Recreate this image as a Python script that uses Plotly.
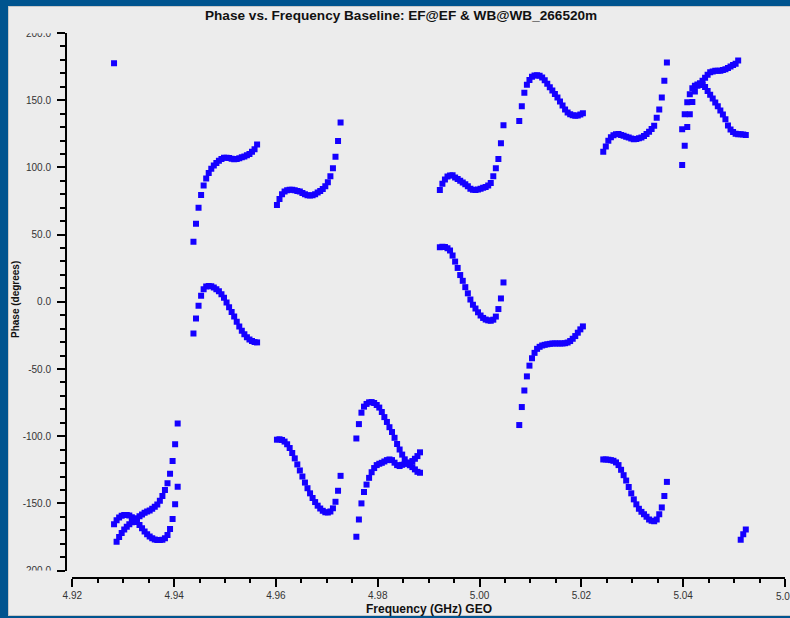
import numpy as np
import plotly.graph_objects as go

# ---------------- data ----------------
subband_start_ghz = [4.9282, 4.9438, 4.9602, 4.9758, 4.9922, 5.0078, 5.0243, 5.0398]
channel_step_ghz = 0.0005

# series 1 phases (degrees), one list per sub-band
s1_sb1 = [177.4, -178.6, -175, -172, -169.5, -167.4, -165.5, -164, -162.5, -161, -159.5, -158.2, -157,
          -156, -155.2, -154, -152.5, -150.8, -148, -144.5, -140, -135, -128, -118.5, -106, -90.5]
s1_sb2 = [44.6, 58, 70, 79.5, 86.5, 91.8, 95.8, 99, 101.5, 103.3, 105, 106.3, 107.1, 107.2, 107, 106.4,
          106, 106.3, 106.8, 107.5, 108.1, 109, 110, 111.7, 113.5, 117]
s1_sb3 = [72, 76.5, 80, 82, 83, 83.3, 83.3, 83, 82.5, 82, 81, 80, 79.3, 79, 79.3, 80, 81.3, 82.5, 84, 86,
          89, 93.5, 99.3, 108, 119.6, 133.5]
s1_sb4 = [-101.7, -91, -82.5, -78, -76, -74.8, -74.6, -75.3, -76.8, -78.7, -82, -85.8, -89.4, -93.3,
          -96.9, -101.2, -105.8, -109.9, -113.7, -117.2, -119.7, -121.6, -123, -124.7, -126.5, -127.2]
s1_sb5 = [83.1, 87.8, 91, 93.3, 94, 94.1, 92.5, 91.3, 90, 88.7, 87.4, 86, 84.2, 83.4, 83.1, 83.5, 84.1,
          84.8, 85.4, 86.5, 88.3, 93.5, 99.3, 106.2, 117.9, 131.3]
s1_sb6 = [134.5, 145.5, 155.5, 161.5, 165, 167.4, 168.3, 168.6, 168.1, 166.8, 164.9, 162.2, 159.7, 157.2,
          154.7, 152.1, 149, 146, 143, 140.9, 139.6, 138.8, 138.5, 138.7, 139.3, 140.3]
s1_sb7 = [111.6, 115.5, 119.8, 122.5, 124, 124.6, 124.8, 124.2, 123.5, 122.8, 122.3, 121.5, 120.9, 121.2,
          121.6, 122.3, 123.3, 124.8, 126.5, 128.5, 131, 137, 143, 152.1, 164.4, 178.1]
s1_sb8 = [101.7, 116.2, 130, 139.5, 148.6, 156.5, 160.7, 162.6, 164.5, 166.7, 168.9, 170.8, 171.4, 171.9,
          171.9, 172, 172.5, 173.1, 174, 175, 176.1, 177.2, 179.5, -177, -173, -169.5]

# series 2 phases (degrees)
s2_sb1 = [-165.5, -162.5, -160.5, -159.2, -158.6, -158.6, -159, -160.3, -162, -163.8, -166, -168.5, -171,
          -173, -174.7, -176, -176.8, -177.3, -177.3, -177, -176, -173.5, -169, -161.7, -150.7, -137.6]
s2_sb2 = [-23.5, -12.5, -3, 4.5, 9.3, 11.3, 11.8, 11.5, 10.6, 9.4, 7.9, 5.6, 3.1, -0.5, -4, -7.5, -10.9,
          -14.8, -18.3, -21.6, -24.2, -26.4, -28, -29.2, -30, -30.2]
s2_sb3 = [-102.6, -102.3, -102.8, -104, -106, -108.8, -112.5, -116.5, -121, -125.5, -130, -134.5, -138.7,
          -142.5, -146, -149, -151.7, -153.8, -155.5, -156.5, -156.8, -156, -153.7, -148.8, -140.6, -129.5]
s2_sb4 = [-174.8, -162, -150, -141.5, -136, -131, -126.8, -123.7, -121.5, -120.5, -119.8, -118.8, -117.8,
          -117.3, -117.8, -119.7, -121.5, -122.2, -121.3, -120.6, -120.3, -119.7, -118.5, -116.8, -114.8, -112]
s2_sb5 = [40.5, 41, 40.8, 39.8, 38.2, 34.4, 29.9, 25.2, 19.9, 15.6, 10.9, 6.3, 1.7, -2.2, -5, -7.8, -10.2,
          -12, -13.2, -13.8, -14.1, -13.3, -11, -5.4, 2.5, 14.4]
s2_sb6 = [-91.7, -78.3, -66, -55.5, -47.5, -42, -38, -35, -33.5, -32.5, -32, -31.6, -31.3, -31, -31, -31,
          -31, -31, -30.8, -30.3, -29.2, -27.5, -25.5, -23, -20.5, -18.3]
s2_sb7 = [-117.3, -117.3, -117.5, -117.8, -118.3, -119.5, -121.5, -125, -129, -133, -137.8, -142.5, -147,
          -150.7, -154, -156.3, -158, -160, -162, -163, -163.3, -162, -158, -153, -144.5, -134]
s2_sb8 = [128.3, 139.5, 148.5, 154.5, 158.8, 160.8, 161.6, 161.7, 161.3, 159.8, 156.9, 154, 151.3, 148.3,
          145.5, 142.4, 139.3, 135.8, 131.1, 128.2, 126.4, 125, 124.6, 124.6, 124.4, 124.1]

series1 = [s1_sb1, s1_sb2, s1_sb3, s1_sb4, s1_sb5, s1_sb6, s1_sb7, s1_sb8]
series2 = [s2_sb1, s2_sb2, s2_sb3, s2_sb4, s2_sb5, s2_sb6, s2_sb7, s2_sb8]

x_ticks = [4.92, 4.94, 4.96, 4.98, 5.00, 5.02, 5.04, 5.06]
x_tick_text = ["4.92", "4.94", "4.96", "4.98", "5.00", "5.02", "5.04", ""]
x_edge_label = "5.0"   # the last label, cut by the picture's right edge
y_ticks = [-200, -150, -100, -50, 0, 50, 100, 150, 200]

title_text = "Phase vs. Frequency Baseline: EF@EF & WB@WB_266520m"
x_title = "Frequency (GHz) GEO"
y_title = "Phase (degrees)"

# ---------------- figure ----------------
W, H = 790, 618
ML, MR, MT, MB = 66, 5, 33, 40
PW, PH = W - ML - MR, H - MT - MB
X0_PX = 72.3      # pixel of first x value
Y_BOT_PX = 570.6  # pixel of -200


def px_x(px):
    return (px - ML) / PW


def px_y(py):
    return (H - MB - py) / PH


FONT = "Liberation Sans, Arial, Helvetica, sans-serif"
MARK = "#1500FF"
PANEL = "#ECECEC"
FRAME = "#00548F"
EDGE = "#C8C8C8"

fig = go.Figure()
for name, ser in (("s1", series1), ("s2", series2)):
    xs, ys = [], []
    for f0, ph in zip(subband_start_ghz, ser):
        fr = f0 + channel_step_ghz * np.arange(len(ph))
        xs.extend(fr.tolist())
        ys.extend(ph)
    fig.add_trace(go.Scatter(x=xs, y=ys, mode="markers", name=name,
                             marker=dict(symbol="square", size=6, color=MARK, line=dict(width=0)),
                             showlegend=False, hoverinfo="x+y"))

axis_common = dict(showline=True, linecolor="black", linewidth=2, ticks="outside",
                   tickcolor="black", tickwidth=2, ticklen=8, showgrid=False, zeroline=False,
                   tickfont=dict(family=FONT, size=10, color="#333333"), anchor="free", position=0)


def rect(x0, x1, y0, y1, color, layer="below"):
    return dict(type="rect", xref="paper", yref="paper", layer=layer,
                x0=px_x(x0), x1=px_x(x1), y0=px_y(y1), y1=px_y(y0),
                fillcolor=color, line=dict(width=0))


fig.update_layout(
    width=W, height=H,
    margin=dict(l=ML, r=MR, t=MT, b=MB, pad=0),
    paper_bgcolor=PANEL, plot_bgcolor="rgba(0,0,0,0)",
    showlegend=False,
    xaxis=dict(range=[4.92, 5.06], domain=[px_x(X0_PX), 1], tickvals=x_ticks,
               ticktext=x_tick_text,
               minor=dict(dtick=0.005, tick0=4.92, ticks="outside", ticklen=4, tickwidth=2,
                          tickcolor="black", showgrid=False),
               **axis_common),
    yaxis=dict(range=[-200, 200], domain=[px_y(Y_BOT_PX), 1], tickvals=y_ticks,
               ticktext=[f"{v:.1f}" for v in y_ticks], ticklabelstandoff=4,
               minor=dict(dtick=10, tick0=0, ticks="outside", ticklen=5, tickwidth=2,
                          tickcolor="black", showgrid=False),
               **axis_common),
    shapes=[
        # outer frame (kept inside the page)
        rect(0, 8, 0, 618, FRAME),
        rect(0, 790, 0, 6, FRAME),
        rect(0, 790, 616, 618, FRAME),
        rect(8, 9, 6, 616, EDGE),
        rect(8, 790, 6, 7, EDGE),
        rect(8, 790, 615, 616, EDGE),
        # clip of the end labels of the y axis
        rect(12, 57, 20, 33.2, PANEL, "above"),
        rect(12, 57, 570.6, 578, PANEL, "above"),
    ],
    annotations=[
        dict(text=f"<b>{title_text}</b>", xref="paper", yref="paper", x=px_x(401), y=px_y(15),
             xanchor="center", yanchor="middle", showarrow=False,
             font=dict(family=FONT, size=13.6, color="#111111")),
        dict(text=f"<b>{x_title}</b>", xref="paper", yref="paper", x=px_x(429), y=px_y(609),
             xanchor="center", yanchor="middle", showarrow=False,
             font=dict(family=FONT, size=12, color="#111111")),
        dict(text=f"<b>{y_title}</b>", xref="paper", yref="paper", x=px_x(15), y=px_y(300),
             xanchor="center", yanchor="middle", showarrow=False, textangle=-90,
             font=dict(family=FONT, size=10, color="#111111")),
        dict(text=x_edge_label, xref="paper", yref="paper", x=px_x(773.5), y=px_y(596.5),
             xanchor="left", yanchor="middle", showarrow=False,
             font=dict(family=FONT, size=10, color="#333333")),
    ],
)

fig.write_html("out.html")
